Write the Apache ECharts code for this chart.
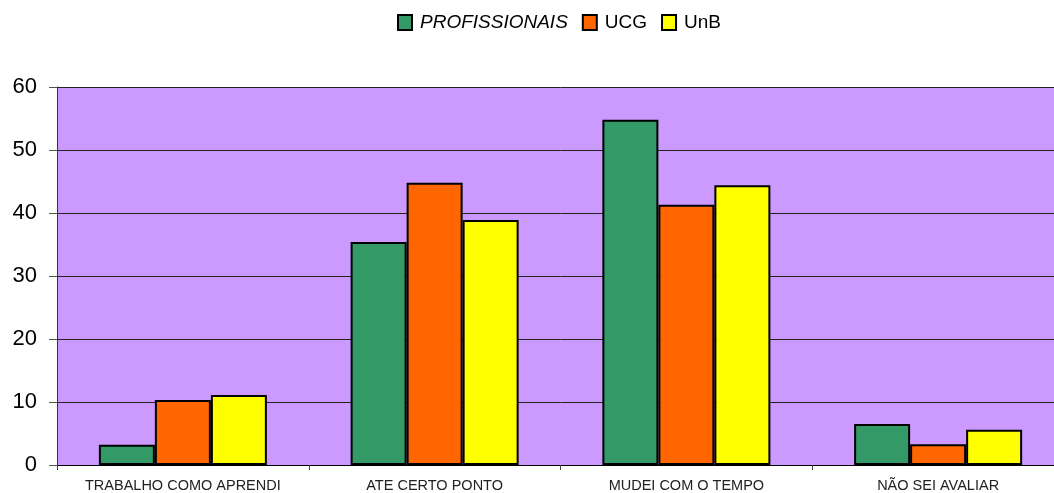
<!DOCTYPE html>
<html>
<head>
<meta charset="utf-8">
<script src="https://cdn.jsdelivr.net/npm/echarts@6/dist/echarts.min.js"></script>
<style>
html,body{margin:0;padding:0;background:#fff;overflow:hidden;width:1054px;height:493px;}
#c{width:1064px;height:493px;}
</style>
</head>
<body>
<div id="c"></div>
<script>
var categories = ['TRABALHO COMO APRENDI', 'ATE CERTO PONTO', 'MUDEI COM O TEMPO', 'NÃO SEI AVALIAR'];
var profissionais = [3.2, 35.4, 54.8, 6.5];
var ucg = [10.3, 44.8, 41.3, 3.3];
var unb = [11.1, 38.9, 44.4, 5.6];
var seriesNames = ['PROFISSIONAIS', 'UCG', 'UnB'];
var yTicks = [0, 10, 20, 30, 40, 50, 60];

var FONT = "'Liberation Sans', Arial, sans-serif";
var chart = echarts.init(document.getElementById('c'), null, {renderer: 'canvas'});

function bar(name, data, color) {
  return {
    name: name,
    type: 'bar',
    data: data,
    barWidth: 56,
    barGap: '0%',
    itemStyle: {color: color, borderColor: '#000', borderWidth: 2},
    emphasis: {disabled: true},
    animation: false
  };
}

chart.setOption({
  animation: false,
  textStyle: {fontFamily: FONT},
  legend: {
    data: seriesNames,
    icon: 'rect',
    left: 392,
    top: 8,
    itemWidth: 14,
    itemHeight: 15,
    itemGap: 14,
    textStyle: {
      fontFamily: FONT, fontSize: 19, color: '#000', padding: [0, 0, 0, 3],
      rich: {i: {fontFamily: FONT, fontSize: 19, fontStyle: 'italic', color: '#000'}}
    },
    formatter: function (n) { return n === 'PROFISSIONAIS' ? '{i|' + n + '}' : n; }
  },
  grid: {
    left: 57, top: 87, right: 0, bottom: 28,
    show: true, backgroundColor: '#CC99FF', borderWidth: 0,
    containLabel: false
  },
  xAxis: {
    type: 'category',
    data: categories,
    axisLine: {lineStyle: {color: '#000', width: 1}},
    axisTick: {show: true, length: 5, lineStyle: {color: '#444'}},
    axisLabel: {fontFamily: FONT, fontSize: 14.5, color: '#222', margin: 13, interval: 0}
  },
  yAxis: {
    type: 'value',
    min: yTicks[0],
    max: yTicks[yTicks.length - 1],
    interval: 10,
    axisLine: {show: true, lineStyle: {color: '#333', width: 1}},
    axisTick: {show: true, length: 8, lineStyle: {color: '#555'}},
    axisLabel: {fontFamily: FONT, fontSize: 22, color: '#000', margin: 20},
    splitLine: {show: true, lineStyle: {color: '#222', width: 1}}
  },
  series: [
    bar(seriesNames[0], profissionais, '#339966'),
    bar(seriesNames[1], ucg, '#FF6600'),
    bar(seriesNames[2], unb, '#FFFF00')
  ]
});
</script>
</body>
</html>
